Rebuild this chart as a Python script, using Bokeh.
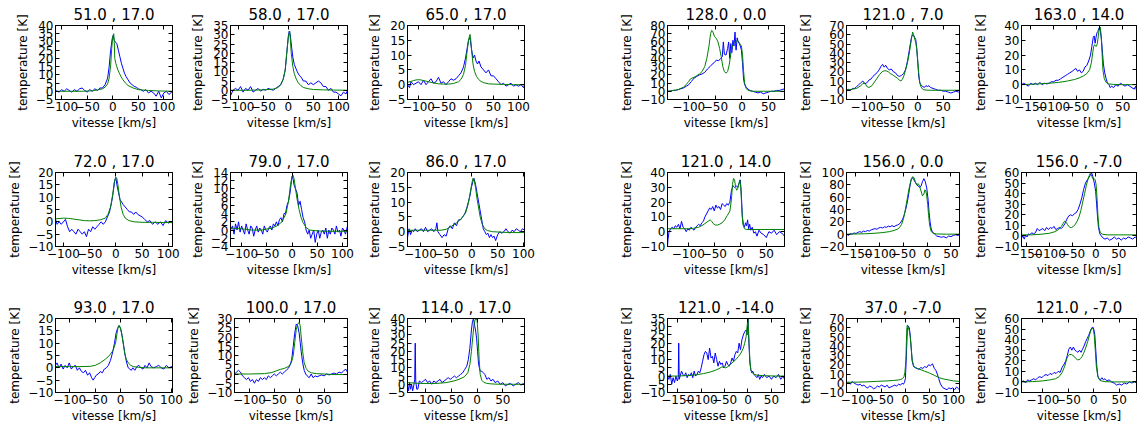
from bokeh.plotting import figure
from bokeh.layouts import column, row
from bokeh.models import Range1d, FixedTicker, LinearAxis, CustomJSTickFormatter
from bokeh.embed import file_html
from bokeh.resources import INLINE

# ---------------- data (velocity km/s, temperature K) ----------------
titles = ["51.0 , 17.0", "58.0 , 17.0", "65.0 , 17.0", "128.0 , 0.0", "121.0 , 7.0", "163.0 , 14.0",
          "72.0 , 17.0", "79.0 , 17.0", "86.0 , 17.0", "121.0 , 14.0", "156.0 , 0.0", "156.0 , -7.0",
          "93.0 , 17.0", "100.0 , 17.0", "114.0 , 17.0", "121.0 , -14.0", "37.0 , -7.0", "121.0 , -7.0"]

xlims = [(-112, 117), (-115, 118), (-122, 112), (-140, 80), (-140, 82), (-170, 80),
         (-115, 108), (-122, 110), (-125, 102), (-140, 85), (-170, 68), (-160, 88),
         (-128, 102), (-130, 97), (-135, 92), (-172, 78), (-122, 112), (-142, 84)]
ylims = [(-5, 40), (-5, 35), (-5, 20), (-10, 80), (-10, 70), (-10, 40),
         (-10, 20), (-4, 14), (-5, 20), (-10, 40), (-20, 100), (-10, 60),
         (-10, 20), (-10, 30), (-5, 40), (-10, 35), (-10, 70), (-10, 60)]
ysteps = [5, 5, 5, 10, 10, 10,
          5, 2, 5, 10, 20, 10,
          5, 5, 5, 5, 10, 10]
xtick_values = [-150, -100, -50, 0, 50, 100]

blue_51_17 = [(-112,0.5),(-105,-0.5),(-100,1),(-95,0),(-90,1.5),(-85,0.5),(-80,-0.5),(-75,1),(-70,0),(-65,1.5),(-60,2),(-55,0.5),(-50,-0.5),(-45,1),(-40,0),(-35,1.5),(-30,0.5),(-25,2),(-20,2),(-15,4),(-10,8),(-7,15),(-4,25),(-1,32),(1,34),(3,31),(5,30),(8,29),(11,25),(14,21),(17,17),(20,14),(23,11),(26,9),(30,7),(34,5),(38,4),(42,3),(46,2.5),(50,1.5),(55,1),(60,0),(65,1),(70,-1),(75,0),(80,-1),(85,-3),(90,0),(95,-4),(100,-1),(105,0),(110,-2),(117,0)]
green_51_17 = [(-112,0),(-80,0),(-60,0),(-40,0.3),(-30,0.8),(-20,1.5),(-15,2.5),(-10,4.5),(-7,8),(-4,16),(-2,26),(0,33),(2,35),(3,30),(4,20),(6,17),(8,15),(10,13),(13,11),(16,9),(20,7),(25,5),(30,3.5),(40,2),(50,1),(70,0.5),(90,0.2),(117,0)]

blue_58_17 = [(-115,-3),(-110,0),(-105,1),(-100,0),(-95,2),(-90,-1),(-85,1),(-80,0),(-75,2),(-70,-1),(-65,0),(-60,1),(-55,-0.5),(-50,0.5),(-45,0),(-40,1),(-35,0.5),(-30,0),(-25,1),(-20,2),(-15,3),(-10,6),(-6,11),(-3,20),(0,29),(2,32),(4,30),(6,25),(9,18),(12,14),(15,12),(18,10),(22,8),(26,7),(30,5),(35,5),(40,3),(45,4),(50,3),(55,4),(60,5),(65,4),(70,2),(75,2),(80,0),(85,1),(90,-1),(95,-1),(100,-2),(105,-3),(110,-1),(115,-2),(118,0)]
green_58_17 = [(-115,0),(-80,0),(-50,0.2),(-30,0.6),(-20,1.5),(-15,3),(-10,6),(-6,11),(-3,20),(0,28),(2,31),(3,32),(4,28),(6,20),(9,13),(12,9),(16,6),(20,4),(25,2.5),(30,1.5),(40,0.8),(50,0.4),(70,0.2),(90,0.1),(118,0)]

blue_65_17 = [(-122,0),(-118,-1),(-115,1),(-110,0),(-105,0.5),(-100,1),(-95,0),(-90,1.5),(-85,0),(-80,1),(-75,2),(-70,0.5),(-65,1),(-60,2.5),(-55,0.5),(-50,1),(-45,0),(-40,1),(-35,2),(-30,1.5),(-25,2),(-20,3),(-15,4),(-10,6),(-6,9),(-3,12),(0,15),(3,16),(6,12),(9,9),(12,10),(15,8),(18,7),(21,8),(25,6),(30,5),(35,4),(40,5),(45,3),(50,3),(55,2),(60,1),(65,0),(70,0.5),(75,-0.5),(80,0),(85,0.5),(90,-0.5),(95,0),(100,-0.5),(105,0),(110,-1),(112,0)]
green_65_17 = [(-122,0.8),(-115,1.1),(-110,1.4),(-105,1.6),(-100,1.7),(-95,1.6),(-90,1.4),(-80,1.0),(-70,0.6),(-60,0.3),(-50,0.2),(-40,0.2),(-30,0.4),(-20,1),(-15,1.8),(-10,3.5),(-6,6.5),(-3,11),(0,15),(2,16.5),(3,17),(4,16),(6,12),(9,7),(12,4.5),(16,2.8),(20,1.8),(25,1.1),(30,0.7),(40,0.3),(50,0.2),(70,0.1),(90,0),(112,0)]

blue_128_0 = [(-140,0),(-135,0),(-130,1),(-125,1),(-120,2),(-115,3),(-110,4),(-105,6),(-100,8),(-95,12),(-90,16),(-85,18),(-80,20),(-75,21),(-70,23),(-65,27),(-60,30),(-56,33),(-52,35),(-48,38),(-44,37),(-40,40),(-37,42),(-35,60),(-33,45),(-30,44),(-27,52),(-25,60),(-23,40),(-21,58),(-19,47),(-17,62),(-15,55),(-13,72),(-12,58),(-11,50),(-9,65),(-7,60),(-5,58),(-3,55),(-1,50),(1,35),(3,15),(5,8),(8,5),(11,3),(15,1),(20,0),(25,-1),(30,-2),(35,-1),(40,-3),(45,-2),(50,-1),(55,0),(60,0),(65,1),(70,1),(75,2),(80,3)]
green_128_0 = [(-140,0),(-130,1),(-120,2),(-110,5),(-105,8),(-100,12),(-97,15),(-94,16),(-90,17),(-85,19),(-80,21),(-75,24),(-70,30),(-66,40),(-62,55),(-59,70),(-57,74),(-55,73),(-52,67),(-48,64),(-45,60),(-42,52),(-39,42),(-36,30),(-33,24),(-30,22),(-27,24),(-24,32),(-21,45),(-18,55),(-15,58),(-12,60),(-9,62),(-6,60),(-3,57),(-1,55),(1,45),(3,25),(5,10),(8,3),(12,1),(20,0),(40,0),(80,0)]

blue_121_7 = [(-140,0),(-136,1),(-132,0),(-128,2),(-124,2),(-120,4),(-116,6),(-112,8),(-108,10),(-104,7),(-100,8),(-96,11),(-92,12),(-88,15),(-84,17),(-80,19),(-76,22),(-72,26),(-69,28),(-66,25),(-63,27),(-60,24),(-56,22),(-52,23),(-48,20),(-44,19),(-40,16),(-36,15),(-32,16),(-28,18),(-24,22),(-20,32),(-17,42),(-14,52),(-12,58),(-10,60),(-8,59),(-6,57),(-4,55),(-2,45),(0,30),(2,15),(4,8),(7,5),(10,4),(13,3),(16,5),(19,4),(22,5),(25,3),(30,2),(35,1),(40,0),(45,0),(50,-1),(55,-1),(60,-2),(65,-3),(70,-2),(75,-1),(80,-2),(82,-1)]
green_121_7 = [(-140,0),(-130,1),(-120,2),(-112,5),(-108,7),(-104,8),(-100,4),(-96,3),(-90,5),(-85,9),(-80,13),(-75,17),(-70,20),(-66,21),(-62,21),(-58,20),(-54,18),(-50,17),(-45,15),(-40,13),(-36,11),(-33,10),(-30,12),(-27,16),(-24,22),(-21,28),(-18,36),(-15,46),(-12,57),(-10,63),(-8,60),(-6,55),(-4,52),(-2,45),(0,32),(2,18),(4,8),(6,4),(9,1.5),(12,0.5),(20,0),(40,0),(82,0)]

blue_163_14 = [(-170,0),(-165,1),(-160,0),(-155,-1),(-150,1),(-145,0),(-140,1),(-135,0),(-130,1.5),(-125,0),(-120,1),(-115,0.5),(-110,1),(-105,2),(-100,2),(-95,3),(-90,3),(-85,4),(-80,5),(-75,6),(-70,7),(-65,8),(-60,9),(-56,10),(-52,11),(-48,9),(-44,10),(-40,8),(-36,9),(-32,12),(-28,13),(-24,16),(-20,20),(-17,26),(-14,32),(-12,33),(-10,28),(-8,32),(-6,35),(-4,36),(-2,38),(0,39),(2,35),(4,30),(6,22),(8,14),(11,8),(14,4),(17,1),(20,0),(23,-2),(26,-1),(30,-2),(35,0),(40,-1),(45,1),(50,0),(55,-1),(60,0),(65,-1),(70,-2),(75,-3),(78,-1),(80,-4)]
green_163_14 = [(-170,0),(-150,0.3),(-130,0.6),(-110,1),(-90,1.5),(-70,2.5),(-55,3.5),(-45,4.5),(-35,6),(-28,7.5),(-22,10),(-18,15),(-15,22),(-13,26),(-11,27),(-9,26),(-7,26),(-5,28),(-3,33),(-1,38),(1,39),(3,34),(5,22),(7,10),(10,4),(14,1.5),(20,0.5),(30,0.2),(50,0),(80,0)]

blue_72_17 = [(-115,1),(-112,-1),(-108,0),(-104,-1),(-100,0),(-96,1),(-92,-2),(-88,-4),(-84,-3),(-80,-4),(-76,-5),(-72,-3),(-68,-4),(-64,-5),(-60,-4),(-56,-6),(-52,-3),(-48,-4),(-44,-2),(-40,-3),(-36,-2),(-32,-1),(-28,0),(-24,-1),(-20,0),(-16,2),(-12,4),(-8,8),(-5,12),(-2,17),(0,18),(2,15),(5,12),(8,9),(11,8),(14,7),(18,6),(22,5),(26,4),(30,4),(34,3),(38,4),(42,3),(46,2.5),(50,2),(55,1),(60,0),(65,0.5),(70,-1),(75,0),(80,-1),(85,0),(90,-1.5),(95,0.5),(100,-0.5),(105,0),(108,-0.5)]
green_72_17 = [(-115,1.2),(-100,1.5),(-90,1.4),(-80,1.1),(-70,0.8),(-60,0.5),(-50,0.4),(-40,0.5),(-30,0.8),(-20,1.5),(-15,3),(-10,6),(-6,11),(-3,16),(0,18),(2,17.5),(4,15),(7,10),(10,6),(14,3),(18,1.5),(25,0.5),(35,0),(50,-0.2),(70,-0.2),(90,-0.3),(108,-0.3)]

blue_79_17 = [(-122,0),(-118,1),(-115,-1),(-112,1.5),(-109,0),(-106,2),(-103,-0.5),(-100,1),(-97,0),(-94,-1),(-91,1.5),(-88,0),(-85,-1),(-82,1),(-79,0.5),(-76,-1.5),(-73,0),(-70,1),(-67,-0.5),(-64,0.5),(-61,0),(-58,-1),(-55,1),(-52,0),(-49,-0.5),(-46,0.5),(-43,1),(-40,0),(-37,1.5),(-34,1),(-31,2),(-28,1),(-25,2.5),(-22,3),(-19,2),(-16,4),(-13,4),(-10,6),(-7,7),(-4,9),(-2,11),(0,13),(2,12.5),(4,11),(7,10),(10,9),(13,6),(16,7),(19,5),(22,3),(25,2),(28,0),(31,-1),(34,0),(37,-2),(40,-1),(43,0),(46,-3),(49,-1),(52,0),(55,-2),(58,-0.5),(61,0),(64,-1),(67,0.5),(70,-2),(73,0),(76,-1),(79,0.5),(82,0),(85,-1),(88,1),(91,-0.5),(94,0),(97,-1.5),(100,0.5),(103,0),(106,-1),(110,1)]
green_79_17 = [(-122,0.5),(-100,0.3),(-80,0),(-60,0),(-40,0.5),(-30,1),(-20,2),(-12,4),(-7,7),(-3,11),(0,13),(2,13.3),(4,12.5),(7,10),(10,7.5),(14,5),(18,3),(22,1.8),(28,0.6),(35,0),(50,-0.2),(70,-0.3),(90,-0.3),(110,-0.3)]

blue_86_17 = [(-125,-2),(-122,1),(-119,-1),(-116,0.5),(-113,0),(-110,1),(-106,0),(-102,0.5),(-98,1),(-94,0),(-90,1.5),(-86,0),(-82,0.5),(-78,1),(-74,0),(-70,1),(-68,3),(-66,0),(-62,-1),(-58,-2),(-54,-1),(-50,-1.5),(-46,1),(-42,2),(-38,1),(-34,3),(-30,2),(-26,4),(-22,4),(-18,5),(-14,6),(-10,8),(-7,10),(-4,12),(-1,15),(2,17),(4,18),(7,16),(10,13),(13,10),(16,7),(19,4),(22,1),(25,0),(28,-1),(31,-0.5),(34,-2),(37,-1),(40,-2),(43,-1.5),(46,-3),(50,-1),(54,0),(58,-0.5),(62,0),(66,1),(70,0),(74,-0.5),(78,0.5),(82,0),(86,1),(90,0.5),(94,0),(98,1),(102,0.5)]
green_86_17 = [(-125,0.5),(-100,0.5),(-80,0.5),(-60,0.5),(-50,0.8),(-40,1.8),(-30,3),(-20,4.5),(-12,6.5),(-7,9.5),(-3,13.5),(0,16.5),(2,18),(4,17.5),(7,15),(10,11),(13,8),(16,5),(20,2.5),(25,1),(30,0.4),(40,0),(60,-0.2),(80,-0.3),(102,-0.3)]

blue_121_14 = [(-140,-10),(-139,-5),(-137,0),(-134,2),(-131,3),(-128,2),(-125,4),(-122,3),(-119,5),(-116,2),(-113,7),(-110,3),(-107,2),(-104,0),(-101,2),(-98,1),(-95,3),(-92,2),(-89,1),(-86,3),(-83,4),(-80,5),(-77,4),(-74,6),(-71,7),(-68,10),(-65,12),(-62,14),(-59,16),(-56,15),(-53,17),(-50,14),(-47,18),(-44,16),(-41,17),(-38,15),(-35,19),(-32,18),(-29,17),(-26,19),(-23,18),(-20,20),(-17,28),(-14,31),(-11,30),(-8,31),(-5,30),(-2,33),(0,35),(2,25),(4,10),(6,5),(8,3),(10,6),(12,4),(14,8),(16,2),(18,5),(20,1),(23,3),(26,-1),(29,0),(32,-3),(36,1),(40,-1),(45,-2),(50,-4),(55,0),(60,-1),(65,1),(70,-2),(75,0),(80,-1),(85,-3)]
green_121_14 = [(-140,2),(-120,2),(-100,2),(-90,2.3),(-80,3),(-72,4.5),(-66,6),(-62,7),(-58,8),(-55,7),(-52,5.5),(-48,4.5),(-44,4.5),(-40,5),(-35,6),(-30,8),(-25,11),(-20,14),(-17,22),(-15,32),(-13,36),(-11,35),(-9,30),(-7,28),(-5,29),(-3,32),(-1,35),(1,30),(3,14),(5,5),(8,2),(12,1.5),(20,1.5),(40,1.5),(85,1.5)]

blue_156_0 = [(-170,0),(-166,-2),(-162,1),(-158,0),(-154,2),(-150,1),(-146,3),(-142,4),(-138,3),(-134,5),(-130,4),(-126,6),(-122,5),(-118,7),(-114,8),(-110,9),(-106,8),(-102,10),(-98,11),(-94,10),(-90,12),(-86,11),(-82,13),(-78,12),(-74,14),(-70,12),(-66,14),(-62,15),(-58,17),(-55,20),(-52,24),(-49,30),(-46,38),(-43,48),(-40,60),(-37,75),(-34,88),(-31,92),(-28,88),(-25,84),(-22,80),(-19,78),(-16,76),(-13,78),(-10,85),(-7,90),(-4,85),(-1,75),(2,55),(4,35),(6,20),(8,10),(10,5),(13,2),(16,0),(20,-3),(25,-4),(30,-5),(35,-4),(40,-6),(45,-3),(50,-4),(55,-2),(60,-1),(65,-2),(68,-1)]
green_156_0 = [(-170,0),(-150,0.3),(-130,0.7),(-110,1.5),(-95,2.5),(-80,4),(-70,6),(-63,8),(-58,11),(-54,16),(-50,25),(-46,40),(-42,58),(-38,75),(-34,88),(-31,93),(-28,92),(-25,85),(-22,80),(-19,82),(-16,78),(-13,70),(-10,62),(-7,65),(-5,72),(-3,70),(-1,62),(1,48),(3,30),(5,15),(8,5),(12,1.5),(20,0.3),(40,0),(68,0)]

blue_156_m7 = [(-160,-2),(-157,0),(-154,-3),(-151,1),(-148,-1),(-145,2),(-142,1),(-138,3),(-134,2),(-130,3),(-126,7),(-122,5),(-118,6),(-114,7),(-110,5),(-106,8),(-102,6),(-98,8),(-94,7),(-90,9),(-86,6),(-82,7),(-78,8),(-74,7),(-70,9),(-66,12),(-62,16),(-58,19),(-54,20),(-50,19),(-46,21),(-42,22),(-38,25),(-34,30),(-30,36),(-26,44),(-22,50),(-18,53),(-15,55),(-12,57),(-9,60),(-6,56),(-3,50),(0,42),(2,30),(4,18),(6,8),(9,2),(12,0),(16,-2),(20,-3),(25,-2),(30,-4),(35,-3),(40,-1),(45,-3),(50,-2),(55,-4),(60,-2),(65,-3),(70,-1),(75,-2),(80,-3),(85,-1),(88,-2)]
green_156_m7 = [(-160,1),(-140,1),(-120,1.5),(-100,2.5),(-88,4),(-80,6),(-74,9),(-70,12),(-67,14),(-64,13),(-61,11),(-58,9),(-55,8),(-52,8),(-48,9),(-44,11),(-40,14),(-36,18),(-32,24),(-28,32),(-24,40),(-20,48),(-17,53),(-14,57),(-12,59),(-10,58),(-8,56),(-6,54),(-3,54),(-1,53),(1,48),(3,35),(5,18),(7,8),(10,3),(15,1.5),(25,1),(50,1),(88,1)]

blue_93_17 = [(-128,1),(-125,2),(-121,0),(-117,1.5),(-113,-0.5),(-109,1),(-105,0),(-101,2),(-97,-0.5),(-93,0.5),(-89,1),(-85,-1),(-81,0),(-77,-1.5),(-73,-2),(-69,-1),(-65,-3),(-61,-2),(-57,-4),(-54,-5),(-51,-4),(-48,-3),(-44,-2.5),(-40,-1.5),(-36,-2),(-32,-0.5),(-28,0),(-24,1),(-20,3),(-16,6),(-12,10),(-9,14),(-6,16),(-3,17),(0,16),(3,13),(6,9),(9,5),(12,2),(15,0),(18,-0.5),(21,-1),(24,0),(28,-1),(32,0.5),(36,1),(40,0),(44,-0.5),(48,1),(52,0),(56,2),(60,0.5),(65,0),(70,0.5),(75,1),(80,0),(85,-0.5),(90,1),(95,0),(100,0.5),(102,0.5)]
green_93_17 = [(-128,0.5),(-100,0.5),(-80,0.5),(-60,0.6),(-50,1),(-40,2),(-30,3.5),(-22,5),(-15,7),(-10,10),(-7,14),(-5,16.5),(-3,17.3),(-1,16.5),(2,14),(5,10),(8,6),(11,3.5),(15,2),(20,1),(25,0.5),(35,0.2),(50,0),(70,0),(102,0)]

blue_100_17 = [(-130,0),(-126,1),(-122,2),(-118,1),(-114,-1),(-110,-2),(-106,-3),(-102,-2),(-98,-4),(-94,-3),(-90,-5),(-86,-3),(-82,-4),(-78,-2),(-74,-3),(-70,-2),(-66,-3),(-62,-1),(-58,-2),(-54,-1),(-50,0),(-46,-1),(-42,0),(-38,1),(-34,0),(-30,1),(-26,2),(-22,3),(-18,5),(-15,8),(-12,15),(-9,22),(-6,27),(-3,26),(0,22),(2,17),(4,12),(7,6),(10,2),(13,0),(16,-1),(20,-2),(24,0),(28,-2),(32,-1),(36,-1.5),(40,-1),(45,-0.5),(50,-1),(55,0),(60,-0.5),(65,0),(70,0.5),(75,0),(80,1),(85,0.5),(90,2),(94,2.5),(97,1)]
green_100_17 = [(-130,0),(-100,0),(-70,0.2),(-55,0.8),(-45,1.8),(-38,2.5),(-30,3),(-22,4),(-16,6),(-12,10),(-9,17),(-6,24),(-3,27),(0,28),(2,26),(4,20),(7,12),(10,6),(14,3),(18,1.5),(25,0.6),(35,0.2),(50,0),(70,-0.3),(97,-0.3)]

blue_114_17 = [(-135,0),(-133,-4),(-131,1),(-129,-3),(-127,0),(-125,-4),(-123,-1),(-121,3),(-120,25),(-119,2),(-117,-3),(-115,-3),(-112,2),(-108,1),(-104,2),(-100,3),(-96,1),(-92,2),(-88,0),(-84,2),(-80,1),(-76,2),(-72,3),(-68,1),(-64,2),(-60,3),(-56,4),(-52,3),(-48,4),(-44,5),(-40,4),(-36,5),(-32,6),(-28,7),(-24,9),(-20,11),(-17,15),(-14,22),(-11,33),(-9,38),(-7,40),(-5,36),(-3,33),(-1,28),(1,20),(3,12),(6,8),(9,8),(12,7),(15,6),(19,3),(23,4),(27,2),(31,3),(35,1),(40,2),(45,0),(50,1),(55,-1),(60,0),(65,0.5),(70,-1),(75,0),(80,1),(85,-0.5),(90,0.5),(92,0)]
green_114_17 = [(-135,1),(-110,0.5),(-80,0.5),(-60,1),(-45,2),(-35,3),(-25,4.5),(-18,7),(-14,12),(-11,20),(-8,30),(-6,36),(-4,39),(-2,40),(0,39),(2,30),(4,15),(6,6),(9,2.5),(13,1.2),(18,0.6),(25,0.3),(35,0.1),(50,0),(70,0),(92,0)]

blue_121_m14 = [(-172,0),(-169,-2),(-166,1),(-163,-5),(-160,-1),(-157,-4),(-154,0),(-151,-3),(-149,-1),(-148,20),(-147,-2),(-145,0),(-142,3),(-139,1),(-136,0),(-133,2),(-130,-1),(-127,1),(-124,0),(-121,2),(-118,-1),(-115,3),(-112,0),(-109,1),(-106,3),(-103,2),(-100,5),(-97,9),(-94,13),(-91,15),(-88,14),(-85,10),(-82,17),(-79,11),(-76,12),(-73,8),(-70,14),(-67,10),(-64,6),(-61,9),(-58,7),(-55,8),(-52,5),(-49,6),(-46,9),(-43,7),(-40,6),(-37,8),(-34,11),(-31,9),(-28,13),(-25,15),(-22,14),(-19,20),(-16,16),(-13,22),(-10,25),(-7,27),(-4,28),(-2,25),(0,35),(2,20),(4,8),(6,4),(8,2),(10,3),(13,1),(16,0),(19,-1),(22,1),(25,-2),(28,0),(31,-1),(35,1),(40,-1),(45,0),(50,-2),(55,0),(60,-1),(65,1),(70,-2),(75,0),(78,-2)]
green_121_m14 = [(-172,0),(-150,0),(-130,0.3),(-110,0.8),(-95,1.5),(-80,2.5),(-70,3.5),(-62,4.5),(-56,5.5),(-52,5.5),(-48,5),(-44,5.5),(-38,7),(-32,8.5),(-26,10),(-20,12),(-15,14),(-10,17),(-7,20),(-4,24),(-2,30),(0,35),(2,22),(4,10),(6,4),(9,2),(13,1),(20,0.5),(35,0.2),(60,0),(78,0)]

blue_37_m7 = [(-122,0),(-118,1),(-114,-1),(-110,2),(-106,0),(-102,-1),(-98,-2),(-94,-1),(-90,-3),(-86,-2),(-82,-4),(-78,-5),(-74,-3),(-70,-4),(-66,-6),(-62,-5),(-58,-3),(-54,-4),(-50,-2),(-46,-3),(-42,-4),(-38,-2),(-34,-5),(-30,-4),(-26,-3),(-22,-2),(-18,-3),(-14,-1),(-10,-2),(-7,0),(-4,-1),(-2,1),(0,5),(2,30),(4,58),(6,62),(8,60),(10,52),(12,38),(14,24),(17,18),(20,17),(24,16),(28,15),(32,17),(36,16),(40,18),(44,17),(48,20),(52,19),(56,21),(60,16),(63,14),(66,10),(69,5),(72,0),(75,-3),(78,-5),(82,-6),(86,-7),(90,-5),(94,-6),(98,-5),(102,-7),(106,-4),(110,-6),(112,-5)]
green_37_m7 = [(-122,1),(-100,1.2),(-80,1.5),(-60,2),(-40,2.5),(-25,3),(-15,3.5),(-10,4),(-6,5),(-3,7),(-1,12),(1,25),(2,45),(3,60),(4,63),(5,62),(6,60),(8,57),(10,50),(12,38),(14,25),(17,19),(20,17),(25,16),(30,15),(40,13),(50,11),(60,8.5),(70,6),(80,4.5),(90,3.5),(100,2.5),(112,2)]

blue_121_m7 = [(-142,0),(-138,1),(-134,-1),(-130,2),(-126,1),(-122,2),(-118,3),(-114,2),(-110,4),(-106,5),(-102,4),(-98,6),(-94,7),(-90,6),(-86,8),(-82,7),(-78,9),(-74,8),(-70,10),(-66,9),(-62,14),(-58,17),(-55,20),(-52,25),(-49,31),(-46,33),(-43,30),(-40,33),(-37,30),(-34,29),(-31,28),(-28,30),(-25,28),(-22,31),(-19,34),(-16,38),(-13,41),(-10,44),(-7,48),(-4,51),(-2,52),(0,50),(2,45),(4,30),(6,15),(8,6),(10,3),(13,2),(16,4),(19,2),(22,3),(26,1),(30,2),(35,0),(40,-1),(45,-3),(50,-2),(55,-3),(60,-1),(65,-2),(70,0),(75,-1),(80,0),(84,-1)]
green_121_m7 = [(-142,0),(-120,0.3),(-100,1),(-85,2),(-75,3),(-68,5),(-62,9),(-57,15),(-53,22),(-50,25),(-47,26),(-44,26),(-41,25),(-38,24),(-35,22),(-32,21),(-29,21),(-26,22),(-23,24),(-20,27),(-16,32),(-12,38),(-8,45),(-5,50),(-3,51),(-1,50),(1,44),(3,30),(5,15),(8,5),(12,1.5),(20,0.3),(40,0),(84,0)]

blues = [blue_51_17, blue_58_17, blue_65_17, blue_128_0, blue_121_7, blue_163_14,
         blue_72_17, blue_79_17, blue_86_17, blue_121_14, blue_156_0, blue_156_m7,
         blue_93_17, blue_100_17, blue_114_17, blue_121_m14, blue_37_m7, blue_121_m7]
greens = [green_51_17, green_58_17, green_65_17, green_128_0, green_121_7, green_163_14,
          green_72_17, green_79_17, green_86_17, green_121_14, green_156_0, green_156_m7,
          green_93_17, green_100_17, green_114_17, green_121_m14, green_37_m7, green_121_m7]

# ---------------- layout ----------------
FONT = "DejaVu Sans"
FRAME_W, FRAME_H = 117, 74
col_left = [55, 46, 48, 131, 46, 48]
col_right = [12, 12, 12, 12, 12, 6]
row_top = [25, 25, 25]
row_bottom = [48, 47, 35]

MINUS_FMT = "return tick < 0 ? '\u2212' + String(-tick) : String(tick);"


def style_axis(ax, ticks, labels):
    ax.ticker = FixedTicker(ticks=ticks)
    ax.major_tick_in = 4
    ax.major_tick_out = 0
    ax.minor_tick_line_color = None
    ax.major_tick_line_color = "black"
    ax.axis_line_color = "black"
    ax.major_label_text_font = FONT
    if labels:
        ax.major_label_text_color = "black"
        ax.major_label_text_font_size = "12px"
        ax.formatter = CustomJSTickFormatter(code=MINUS_FMT)
    else:
        # mirrored tick marks only (matplotlib style ticks on all four sides)
        ax.major_label_text_color = None
        ax.major_label_text_font_size = "0px"
        ax.major_label_standoff = 0


def make_panel(i):
    r, c = divmod(i, 6)
    L, R, T, B = col_left[c], col_right[c], row_top[r], row_bottom[r]
    p = figure(width=L + FRAME_W + R, height=T + FRAME_H + B,
               x_range=Range1d(*xlims[i]), y_range=Range1d(*ylims[i]),
               output_backend="svg", toolbar_location=None, title=titles[i],
               min_border_left=L, min_border_right=R, min_border_top=T, min_border_bottom=B,
               background_fill_color="white", border_fill_color="white")
    p.outline_line_color = "black"
    p.outline_line_alpha = 1.0
    p.grid.visible = False
    p.title.text_font = FONT
    p.title.text_font_size = "15px"
    p.title.text_font_style = "normal"
    p.title.text_color = "black"
    p.title.align = "center"
    p.title.standoff = 3

    y0, y1 = ylims[i]
    yt = list(range(y0, y1 + 1, ysteps[i]))

    xa = p.xaxis[0]
    ya = p.yaxis[0]
    style_axis(xa, xtick_values, True)
    style_axis(ya, yt, True)
    xa.axis_label = "vitesse [km/s]"
    ya.axis_label = "temperature [K]"
    for ax in (xa, ya):
        ax.axis_label_text_font = FONT
        ax.axis_label_text_font_size = "12px"
        ax.axis_label_text_font_style = "normal"
        ax.axis_label_text_color = "black"
    xa.major_label_standoff = 2
    xa.axis_label_standoff = 2
    ya.major_label_standoff = 2
    ya.axis_label_standoff = 3

    top = LinearAxis()
    style_axis(top, xtick_values, False)
    p.add_layout(top, "above")
    right = LinearAxis()
    style_axis(right, yt, False)
    p.add_layout(right, "right")

    vb, tb = zip(*blues[i])
    vg, tg = zip(*greens[i])
    p.line(list(vb), list(tb), line_color="#0000ff", line_width=1)
    p.line(list(vg), list(tg), line_color="#008000", line_width=1)
    return p


panels = [make_panel(i) for i in range(18)]
layout = column(*[row(*panels[r * 6:(r + 1) * 6]) for r in range(3)])

with open("out.html", "w", encoding="utf-8") as f:
    f.write(file_html(layout, INLINE))
